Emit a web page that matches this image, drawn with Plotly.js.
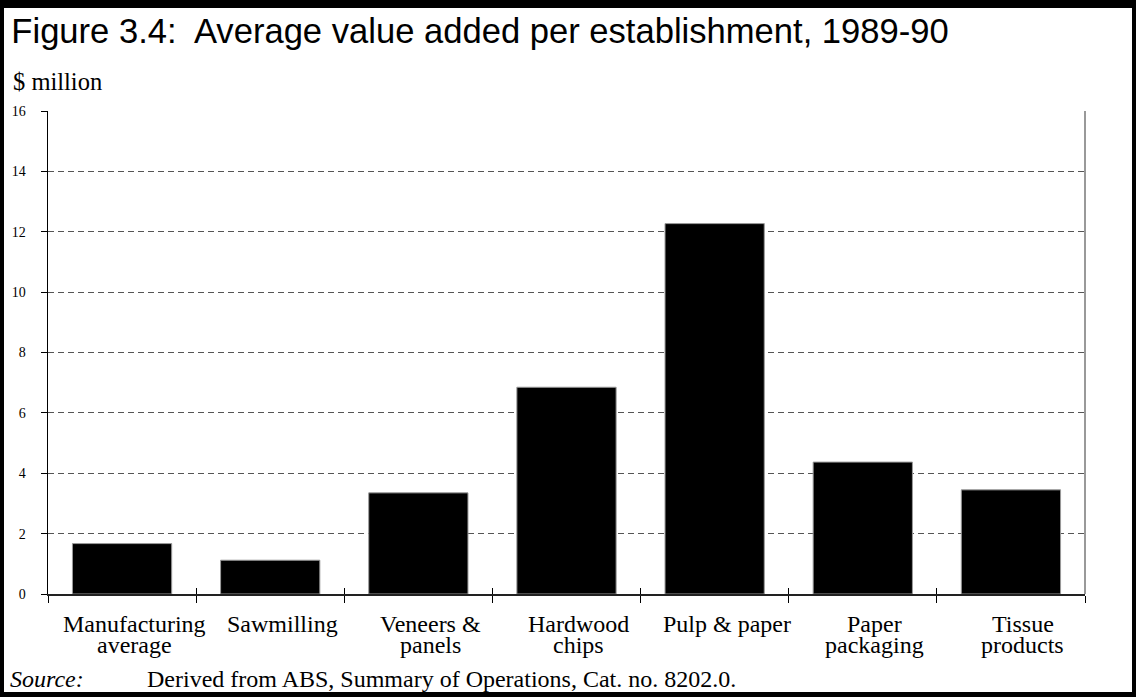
<!DOCTYPE html>
<html>
<head>
<meta charset="utf-8">
<script src="https://cdn.plot.ly/plotly-3.0.1.min.js"></script>
<style>
  html, body { margin: 0; padding: 0; background: #000; width: 1136px; height: 697px; overflow: hidden; }
  #chart { position: absolute; left: 4px; top: 8px; width: 1128px; height: 684px; background: #fff; }
</style>
</head>
<body>
<div id="chart"></div>
<script>
// Average value added per establishment, 1989-90 ($ million)
const categories = ["Manufacturing average", "Sawmilling", "Veneers & panels", "Hardwood chips",
                    "Pulp & paper", "Paper packaging", "Tissue products"];
const labelLine1 = ["Manufacturing", "Sawmilling", "Veneers &", "Hardwood", "Pulp & paper", "Paper", "Tissue"];
const labelLine2 = ["average", "", "panels", "chips", "", "packaging", "products"];
const valueAdded = [1.67, 1.12, 3.35, 6.85, 12.27, 4.37, 3.45];
const yTicks = [0, 2, 4, 6, 8, 10, 12, 14, 16];

const serif = "Liberation Serif, Times New Roman, serif";
const sans = "Liberation Sans, Arial, sans-serif";

const bars = {
  type: "bar",
  x: categories,
  y: valueAdded,
  marker: { color: "#000000", line: { color: "#9a9a9a", width: 1 } },
  hoverinfo: "x+y"
};

// invisible companion trace so the overlay axis can draw its inward tick marks
const tickCarrier = {
  type: "scatter",
  mode: "markers",
  x: categories,
  y: valueAdded,
  xaxis: "x2",
  marker: { opacity: 0 },
  hoverinfo: "skip"
};

const labelFont = { family: serif, size: 24, color: "#000" };
const labelAnnotations = [];
categories.forEach((c, i) => {
  labelAnnotations.push({
    text: labelLine1[i], x: c, xref: "x", y: -0.062, yref: "paper", xshift: 12,
    xanchor: "center", yanchor: "middle", showarrow: false, font: labelFont
  });
  if (labelLine2[i]) {
    labelAnnotations.push({
      text: labelLine2[i], x: c, xref: "x", y: -0.1065, yref: "paper", xshift: 12,
      xanchor: "center", yanchor: "middle", showarrow: false, font: labelFont
    });
  }
});

const baseX = {
  type: "category",
  categoryorder: "array",
  categoryarray: categories,
  range: [-0.5, 6.5],
  tickson: "boundaries",
  tickcolor: "#000",
  tickwidth: 1,
  ticklen: 7,
  showticklabels: false,
  showgrid: false,
  zeroline: false,
  fixedrange: true
};

const layout = {
  width: 1128,
  height: 684,
  margin: { l: 44, r: 47, t: 103, b: 98 },
  paper_bgcolor: "#ffffff",
  plot_bgcolor: "#ffffff",
  showlegend: false,
  bargap: 0.33,
  title: {
    text: "Figure 3.4:  Average value added per establishment, 1989-90",
    font: { family: sans, size: 34.6, color: "#000" },
    xref: "container", x: 0.0065, xanchor: "left",
    yref: "container", y: 0.966, yanchor: "middle"
  },
  xaxis: Object.assign({}, baseX, {
    ticks: "outside",
    showline: true,
    linecolor: "#222",
    linewidth: 1.5
  }),
  xaxis2: Object.assign({}, baseX, {
    overlaying: "x",
    anchor: "y",
    side: "bottom",
    ticks: "inside",
    ticklen: 6,
    showline: false
  }),
  yaxis: {
    range: [0, 16],
    tickvals: yTicks,
    ticktext: yTicks.map(String),
    ticks: "outside",
    ticklen: 6,
    tickcolor: "#000",
    ticklabelstandoff: 12,
    tickfont: { family: serif, size: 14, color: "#000" },
    showline: true,
    linecolor: "#000",
    linewidth: 1.5,
    showgrid: true,
    gridcolor: "#555555",
    gridwidth: 1,
    griddash: "6px,4px",
    zeroline: false,
    fixedrange: true
  },
  shapes: [
    { type: "line", xref: "paper", yref: "y", x0: 1, x1: 1, y0: 0, y1: 16,
      line: { color: "#777", width: 1.5 } }
  ],
  annotations: [
    { text: "$ million", xref: "paper", yref: "paper", x: -0.0355, y: 1.062,
      xanchor: "left", yanchor: "middle", showarrow: false,
      font: { family: serif, size: 24.5, color: "#000" } },
    { text: "<i>Source:</i>", xref: "paper", yref: "paper", x: -0.039, y: -0.176,
      xanchor: "left", yanchor: "middle", showarrow: false,
      font: { family: serif, size: 24, color: "#000" } },
    { text: "Derived from ABS, Summary of Operations, Cat. no. 8202.0.", xref: "paper", yref: "paper",
      x: 0.094, y: -0.176, xanchor: "left", yanchor: "middle", showarrow: false,
      font: { family: serif, size: 24, color: "#000" } }
  ].concat(labelAnnotations)
};

Plotly.newPlot("chart", [bars, tickCarrier], layout, { displayModeBar: false, staticPlot: true });
</script>
</body>
</html>
